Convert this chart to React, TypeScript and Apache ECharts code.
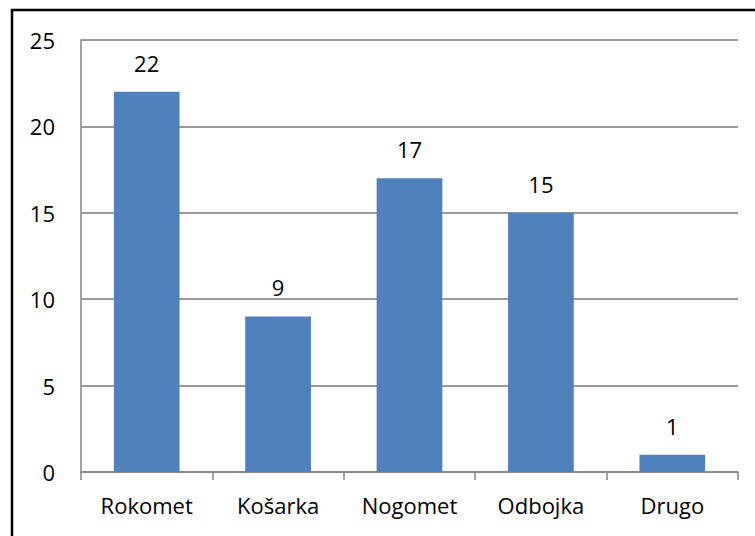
import React, { useEffect, useRef } from "react";
import * as echarts from "echarts";

const categories = ["Rokomet", "Košarka", "Nogomet", "Odbojka", "Drugo"];
const values = [22, 9, 17, 15, 1];
const yTicks = { min: 0, max: 25, interval: 5 };

export default function App() {
  const ref = useRef<HTMLDivElement>(null);
  useEffect(() => {
    const chart = echarts.init(ref.current!, undefined, { renderer: "svg" });
    const font = "'Open Sans', 'Noto Sans', sans-serif";
    chart.setOption({
      animation: false,
      backgroundColor: "#ffffff",
      graphic: [
        {
          type: "rect",
          shape: { x: 12, y: 10, width: 760, height: 560 },
          style: { fill: "none", stroke: "#000", lineWidth: 2.5 },
          silent: true,
        },
      ],
      grid: { left: 81, right: 17, top: 40, bottom: 64, containLabel: false },
      xAxis: {
        type: "category",
        data: categories,
        axisLine: { lineStyle: { color: "#868686", width: 1.5 } },
        axisTick: { show: true, length: 8, alignWithLabel: false, lineStyle: { color: "#868686", width: 1.5 } },
        axisLabel: { color: "#000", fontSize: 22, fontFamily: font, margin: 22 },
      },
      yAxis: {
        type: "value",
        min: yTicks.min,
        max: yTicks.max,
        interval: yTicks.interval,
        axisLine: { show: true, lineStyle: { color: "#868686", width: 1.5 } },
        axisTick: { show: false },
        splitLine: { lineStyle: { color: "#999", width: 2 } },
        axisLabel: { color: "#000", fontSize: 22, fontFamily: font, margin: 26 },
      },
      series: [
        {
          type: "bar",
          data: values,
          barWidth: "50%",
          itemStyle: { color: "#4f81bd" },
          label: {
            show: true,
            position: "top",
            distance: 18,
            color: "#000",
            fontSize: 22,
            fontFamily: font,
          },
        },
      ],
    });
    return () => chart.dispose();
  }, []);
  return <div ref={ref} style={{ width: 755, height: 536, position: "absolute", left: 0, top: 0 }} />;
}
